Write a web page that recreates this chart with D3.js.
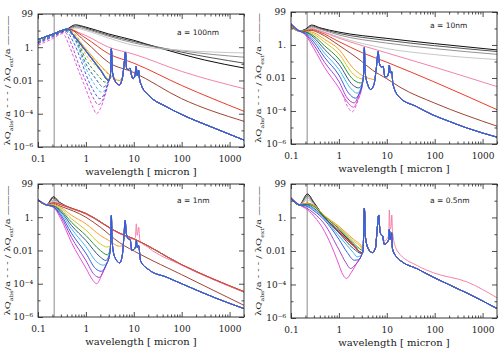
<!DOCTYPE html>
<html>
<head>
<meta charset="utf-8">
<script src="https://cdn.jsdelivr.net/npm/d3@7"></script>
<style>
  body { margin: 0; background: #fff; }
</style>
</head>
<body>
<svg id="chart" width="500" height="348"></svg>
<script>
(function(){
    'use strict';

    // tick labels
    const xTicks = [0.1, 1, 10, 100, 1000];
    const xTickLabels = ["0.1", "1", "10", "100", "1000"];
    const yTicks = [99, 1, 0.01, 1e-4, 1e-6];
    const yTickLabels = ["99", "1.", "0.01", "10⁻⁴", "10⁻⁶"];
    const yMinor = [10, 0.1, 1e-3, 1e-5];
    const sizeLabels = ["a = 100nm", "a = 10nm", "a = 1nm", "a = 0.5nm"];
    const bumpWave = 0.2175;

    // colour order: black, greys, pink, red, brown, orange, yellow, green, teal, light blue, blue, purple, magenta
    const colors = ["#000000", "#4a4a4a", "#8c8c8c", "#c4c4c4", "#f27ca2", "#e8321e", "#9c3a28",
                    "#f59a1a", "#d2c21e", "#1e8c28", "#2a4a8c", "#38b4e6", "#2e50dc", "#9a3cc8", "#e646d2"];

    // ---- a = 100nm ----
    const band1 = [[3.25,0.02],[3.4,0.8],[3.6,0.03],[4.2,0.008],[5.0,0.0055],[5.8,0.015],[6.3,0.1],[6.7,0.5],
        [7.1,0.05],[7.7,0.045],[8.3,0.055],[9.0,0.02],[9.7,0.013],[10.6,0.02],[11.2,0.07],[11.8,0.02],[12.6,0.04],
        [13.2,0.012],[14.5,0.005],[21,0.0012],[46,2.8e-4],[100,9e-5],[500,1.3e-5],[2000,2.6e-6]];
    const p1 = [
        [[0.1,2.9],[0.2,6],[0.4,12],[0.6,22],[1,16],[3,6.2],[10,2.6],[30,1.0],[100,0.38],[300,0.17],[2000,0.056]],
        [[0.1,2.9],[0.2,6],[0.4,12],[0.65,19],[1,14],[3,5.2],[10,2.2],[100,0.5],[2000,0.11]],
        [[0.1,2.9],[0.2,6],[0.4,12],[0.65,16],[1,12],[3,4.5],[10,1.8],[100,0.6],[2000,0.25]],
        [[0.1,2.9],[0.2,6],[0.4,12],[0.6,14],[1,10],[3,3.5],[10,1.3],[100,0.65],[2000,0.45]],
        [[0.1,2.9],[0.2,6],[0.43,12.5],[0.5,11],[1,5],[3,1.0],[10,0.38],[100,0.035],[2000,0.0032]],
        [[0.1,2.9],[0.2,6],[0.43,12.5],[1,3.5],[3,0.4],[10,0.11],[100,0.005],[2000,1.4e-4]],
        [[0.1,2.9],[0.2,6],[0.43,12.5],[1,2],[3,0.12],[10,0.03],[100,8e-4],[2000,3.5e-5]],
        [[0.1,2.9],[0.2,6],[0.43,12.5],[0.5,8],[1,0.8],[2,0.08],[3,0.025],[5,0.01],[5.8,0.016]],
        [[0.1,2.9],[0.2,6],[0.43,12.5],[0.5,7.6],[1,0.65],[2,0.05],[3,0.012]],
        [[0.1,2.9],[0.2,6],[0.43,12.5],[0.5,7.5],[1,0.62],[2,0.046],[3,0.011]],
        [[0.1,2.9],[0.2,6],[0.43,12.5],[0.5,7.5],[1,0.6],[2,0.045],[3,0.01]],
        [[0.1,2.9],[0.2,6],[0.43,12.5],[0.5,7.5],[1,0.6],[2,0.044],[3,0.01]],
        [[0.1,2.9],[0.2,6],[0.43,12.5],[0.5,7.4],[1,0.58],[2,0.043],[3,0.01]],
        [[0.1,2.9],[0.2,6],[0.43,12.5],[0.5,7.4],[1,0.58],[2,0.043],[3,0.01]],
        [[0.1,2.9],[0.2,6],[0.43,12.5],[0.5,7.3],[1,0.57],[2,0.042],[3,0.01]]
    ];
    const p1Join = [0,0,0,0,0,0,0,1,1,1,1,1,1,1,1];
    const p1Dash = [[],[],[],[],[],[],[],
        [[0.1,2.3],[0.2,5.7],[0.43,11],[0.6,6],[1,0.6],[2,0.08],[3,0.022],[5,0.01],[5.8,0.016]],
        [[0.1,2.2],[0.2,5.5],[0.42,11],[0.6,5],[1,0.35],[2,0.04],[3,0.012]],
        [[0.1,2.1],[0.2,5.2],[0.42,10.5],[0.6,4],[1,0.19],[1.8,0.02],[2.5,0.008],[3,0.011]],
        [[0.1,2],[0.2,5],[0.4,10],[0.6,3],[1,0.1],[1.6,0.013],[2.3,0.004],[3,0.01]],
        [[0.1,1.9],[0.2,4.8],[0.4,9.5],[0.6,2.5],[1,0.055],[1.5,0.006],[2.1,0.002],[2.6,0.003],[3,0.01]],
        [[0.1,1.8],[0.2,4.5],[0.38,9],[0.55,2],[0.8,0.15],[1,0.024],[1.5,0.002],[1.95,8e-4],[2.4,0.0015],[3,0.01]],
        [[0.1,1.6],[0.2,4],[0.36,8],[0.5,1.5],[0.7,0.1],[1,0.009],[1.5,7e-4],[1.8,3.5e-4],[2.2,6e-4],[2.7,0.003],[3,0.009]],
        [[0.1,1.3],[0.2,3.2],[0.33,6.5],[0.45,1.2],[0.7,0.04],[1,0.003],[1.4,2.5e-4],[1.66,1e-4],[2.0,2e-4],[2.5,0.0012],[3,0.008]]
    ];

    // ---- a = 10nm ----
    const band2 = [[3.25,0.012],[3.4,0.7],[3.55,0.02],[4.0,0.004],[4.6,0.002],[5.4,0.004],[6.1,0.05],[6.6,0.4],
        [7.0,0.08],[7.7,0.045],[8.4,0.05],[9.1,0.012],[10.2,0.012],[11.0,0.025],[11.3,0.06],[11.8,0.02],[12.6,0.025],
        [13.5,0.004],[18.6,6.5e-4],[41,1.9e-4],[89,6e-5],[205,2.3e-5],[457,9.6e-6],[2000,2.6e-6]];
    const p2 = [
        [[0.1,13],[0.15,7],[0.2,9],[0.27,16],[0.4,11],[1,6],[10,2.5],[100,1.2],[2000,0.5]],
        [[0.1,13],[0.15,7],[0.2,8.5],[0.27,14],[0.4,10],[1,5],[10,1.9],[100,0.9],[2000,0.4]],
        [[0.1,13],[0.15,7],[0.2,8],[0.27,12],[0.4,9],[1,4],[10,1.3],[100,0.6],[2000,0.27]],
        [[0.1,14],[0.15,7],[0.2,7.5],[0.27,10],[0.4,7.5],[1,3],[10,0.6],[100,0.26],[2000,0.13]],
        [[0.1,15],[0.15,7],[0.2,7.5],[0.27,9.5],[0.4,7],[1,2.6],[10,0.33],[100,0.045],[2000,0.003]],
        [[0.1,15],[0.15,7],[0.2,7.2],[0.27,8.5],[0.4,6],[1,1.6],[3,0.35],[10,0.09],[100,0.0056],[2000,1.2e-4]],
        [[0.1,16],[0.15,7],[0.2,7],[0.27,7.5],[0.4,5],[1,0.95],[3,0.1],[5,0.03],[10,0.009],[20,0.0025],[100,3e-4],[2000,1.2e-5]],
        [[0.1,16],[0.15,7],[0.2,6.8],[0.3,5.5],[0.5,2.2],[1,0.54],[2,0.038],[3,0.015],[4.5,0.009],[5.5,0.008]],
        [[0.1,17],[0.15,7],[0.2,6.5],[0.3,4.5],[0.5,1.5],[1,0.29],[2,0.017],[3,0.009]],
        [[0.1,17],[0.15,7],[0.2,6.2],[0.3,3.5],[0.5,0.9],[1,0.14],[2,0.008],[2.8,0.005],[3.1,0.006]],
        [[0.1,18],[0.15,7],[0.2,6],[0.3,2.8],[0.5,0.55],[1,0.068],[2,0.0035],[2.6,0.0025],[3.1,0.005]],
        [[0.1,18],[0.15,7],[0.2,5.5],[0.3,2.1],[0.5,0.32],[1,0.033],[1.8,0.0022],[2.4,0.0012],[3.1,0.005]],
        [[0.1,19],[0.15,7],[0.2,5],[0.3,1.5],[0.5,0.18],[1,0.015],[1.6,0.0012],[2.2,6e-4],[2.7,0.0012],[3.1,0.005]],
        [[0.1,19],[0.15,7],[0.2,4.5],[0.3,1.0],[0.5,0.09],[1,0.0062],[1.5,6e-4],[2.1,3.1e-4],[2.6,0.001],[3.1,0.005]],
        [[0.1,20],[0.15,7],[0.2,4],[0.3,0.6],[0.5,0.044],[1,0.0025],[1.5,3.5e-4],[2.0,1.7e-4],[2.5,5e-4],[3.1,0.004]]
    ];
    const p2Join = [0,0,0,0,0,0,0,1,1,1,1,1,1,1,1];
    const p2Dash = [[],[],[],[],[],[],[],[],[],[],[],[],[],[],
        [[1.2,0.001],[1.5,2e-4],[1.9,9e-5],[2.4,3e-4],[3.1,0.0035]]];

    // ---- a = 1nm ----
    const band3 = [[3.25,0.015],[3.4,1.26],[3.55,0.03],[4.0,0.004],[5.1,0.0018],[5.8,0.006],[6.2,0.06],[6.6,0.63],
        [7.0,0.1],[7.7,0.05],[8.4,0.045],[9.1,0.01],[10.2,0.012],[11.0,0.02],[11.3,0.04],[11.8,0.015],[12.6,0.02],
        [13.9,0.0023],[21,6.7e-4],[48,2.5e-4],[100,1e-4],[520,1.35e-5],[2000,3.2e-6]];
    const p3 = [
        [[0.1,11],[0.15,5.5],[0.21,17],[0.28,8],[0.4,4.5],[1,1.7],[5,0.11],[10,0.05],[100,0.0014],[2000,3.2e-5]],
        [[0.1,11],[0.15,5.5],[0.21,14],[0.28,7.5],[0.4,4.3],[1,1.65],[5,0.11],[10,0.05],[100,0.0014],[2000,3.3e-5]],
        [[0.1,11],[0.15,5.5],[0.21,11],[0.28,7],[0.4,4.2],[1,1.65],[5,0.11],[10,0.05],[100,0.0014],[2000,3.3e-5]],
        [[0.1,11],[0.15,5.5],[0.21,9],[0.28,6.5],[0.4,4.1],[1,1.6],[5,0.11],[10,0.05],[100,0.0014],[2000,3.3e-5]],
        [[0.1,11],[0.15,5.5],[0.21,8],[0.3,5.8],[1,1.6],[5,0.105],[10,0.048],[10.8,0.06],[11.3,0.4],[11.8,0.08],
         [12.7,0.25],[13.4,0.04],[20,0.015],[100,0.0013],[2000,3.1e-5]],
        [[0.1,11],[0.15,5.5],[0.21,7.5],[0.3,5.6],[1,1.6],[5,0.11],[10,0.05],[100,0.0014],[2000,3.4e-5]],
        [[0.1,11],[0.15,5.5],[0.21,6.5],[0.3,4.5],[1,1.0],[2,0.25],[5,0.03],[13,0.0063],[100,3.5e-4],[2000,5e-6]],
        [[0.1,11],[0.15,5.5],[0.21,5.5],[0.3,3.8],[0.5,1.3],[1,0.4],[2,0.08],[3,0.04],[5.0,0.018],[5.9,0.02]],
        [[0.1,11],[0.15,5.5],[0.21,5],[0.3,3.2],[0.5,0.8],[1,0.17],[2,0.025],[2.8,0.016],[3.1,0.018]],
        [[0.1,11],[0.15,5.5],[0.21,4.8],[0.3,2.6],[0.5,0.5],[1,0.08],[2,0.01],[2.8,0.0055],[3.1,0.008]],
        [[0.1,11],[0.15,5.5],[0.21,4.6],[0.3,2.2],[0.5,0.32],[1,0.04],[2,0.004],[2.6,0.0025],[3.1,0.006]],
        [[0.1,11],[0.15,5.5],[0.21,4.4],[0.3,1.8],[0.5,0.2],[1,0.017],[1.7,0.002],[2.3,0.0013],[2.8,0.002],[3.1,0.005]],
        [[0.1,11],[0.15,5.5],[0.21,4.2],[0.3,1.4],[0.5,0.11],[1,0.0068],[1.6,8e-4],[2.1,5.6e-4],[2.7,0.0015],[3.1,0.005]],
        [[0.1,11],[0.15,5.5],[0.21,4.1],[0.3,1.1],[0.5,0.06],[1,0.0025],[1.5,3.5e-4],[1.9,2.4e-4],[2.5,0.001],[3.1,0.005]],
        [[0.1,11],[0.15,5.5],[0.21,4],[0.3,0.8],[0.5,0.03],[1,8.7e-4],[1.4,1.6e-4],[1.67,1e-4],[2.2,4e-4],[2.8,0.002],[3.1,0.005]]
    ];
    const p3Join = [0,0,0,0,0,0,0,1,1,1,1,1,1,1,1];

    // ---- a = 0.5nm ----
    const band4 = [[3.2,0.01],[3.4,3.5],[3.6,0.06],[4.2,0.012],[5.0,0.008],[5.8,0.015],[6.3,0.2],[6.8,1.4],
        [7.2,0.15],[7.7,0.09],[8.2,0.08],[8.8,0.025],[10,0.03],[11.0,0.05],[11.3,0.19],[11.8,0.05],[12.6,0.12],
        [13.2,0.0125],[16.6,0.004],[19.5,0.0026],[44,8.4e-4],[94,2.7e-4],[480,3e-5],[2000,3.7e-6]];
    const p4 = [
        [[0.1,13],[0.15,5.6],[0.22,25],[0.3,8],[0.5,1.0],[1,0.17],[2,0.025],[3,0.008]],
        [[0.1,13],[0.15,5.6],[0.22,20],[0.3,7],[0.5,1.0],[1,0.16],[2,0.024],[3,0.008]],
        [[0.1,13],[0.15,5.6],[0.22,15],[0.3,6.5],[0.5,1.0],[1,0.15],[2,0.023],[3,0.008]],
        [[0.1,13],[0.15,5.6],[0.22,11],[0.3,6],[0.5,1.0],[1,0.15],[2,0.023],[3,0.008]],
        [[0.1,14],[0.15,5.6],[0.22,7],[0.3,5],[0.5,1.0],[1,0.15],[2,0.022],[3,0.008],[3.2,0.01],[3.4,3],[3.6,0.06],
         [4.2,0.012],[5,0.008],[5.8,0.015],[6.3,0.2],[6.8,1.2],[7.2,0.15],[7.7,0.09],[8.2,0.08],[8.8,0.04],[10,0.05],
         [11.0,0.1],[11.3,2.8],[11.8,0.2],[12.3,0.3],[12.7,1.4],[13.2,0.12],[16.6,0.01],[44,0.0013],[94,5e-4],
         [480,1.4e-4],[2000,1.6e-5]],
        [[0.1,14],[0.15,5.6],[0.22,7],[0.3,5],[0.5,1.0],[1,0.14],[2,0.022],[3,0.008]],
        [[0.1,14],[0.15,5.6],[0.22,7],[0.3,5],[0.5,0.95],[1,0.13],[2,0.02],[3,0.008]],
        [[0.1,14],[0.15,5.6],[0.22,7],[0.3,5],[0.5,1.3],[1,0.3],[2,0.05],[3,0.018]],
        [[0.1,14],[0.15,5.6],[0.22,6.5],[0.3,4.8],[0.5,1.2],[1,0.25],[2,0.04],[3,0.014]],
        [[0.1,14],[0.15,5.6],[0.22,6],[0.3,4.5],[0.5,1.1],[1,0.22],[2,0.03],[3,0.011]],
        [[0.1,14],[0.15,5.6],[0.22,5.5],[0.3,3.5],[0.5,0.95],[1,0.12],[2,0.014],[3,0.007]],
        [[0.1,14],[0.15,5.6],[0.22,5],[0.3,3],[0.5,0.85],[1,0.08],[2,0.008],[2.4,0.0045],[3,0.006]],
        [[0.1,15],[0.15,5.6],[0.22,4.5],[0.3,2.5],[0.5,0.7],[1,0.05],[1.5,0.008],[2.1,0.0028],[2.6,0.003],[3,0.006]],
        [[0.1,15],[0.15,5.6],[0.2,4],[0.3,1.8],[0.5,0.4],[1,0.012],[1.4,0.002],[1.75,9e-4],[2.2,0.0015],[3,0.006]],
        [[0.1,15],[0.15,5.6],[0.2,3.5],[0.3,1.2],[0.5,0.15],[0.8,0.008],[1,0.0015],[1.2,4e-4],[1.45,2.3e-4],[1.8,5e-4],[2.4,0.002],[3,0.006]]
    ];
    const p4Join = [1,1,1,1,0,1,1,1,1,1,1,1,1,1,1];

    const noDash = [[],[],[],[],[],[],[],[],[],[],[],[],[],[],[]];

    // layout of the four frames
    const W = 206;
    const panels = [
        {left: 38,  top: 14,  bottom: 147, curves: p1, join: p1Join, dash: p1Dash, band: band1, labY: 32,  ylabX: 7},
        {left: 291, top: 12,  bottom: 144, curves: p2, join: p2Join, dash: p2Dash, band: band2, labY: 25,  ylabX: 258},
        {left: 38,  top: 184, bottom: 317, curves: p3, join: p3Join, dash: noDash, band: band3, labY: 200, ylabX: 7},
        {left: 291, top: 184, bottom: 318, curves: p4, join: p4Join, dash: noDash, band: band4, labY: 200, ylabX: 258}
    ];
    const order = [0,1,2,3,4,5,6,7,8,9,10,14,13,11,12];

    const svg = d3.select("#chart");
    const serif = "DejaVu Serif";

    function withBand(own, band) {
        const last = own[own.length - 1][0];
        return own.concat(band.filter(b => b[0] > last));
    }

    panels.forEach((pn, i) => {
        const x = d3.scaleLog().domain([0.1, 2000]).range([pn.left, pn.left + W]);
        const y = d3.scaleLog().domain([1e-6, 99]).range([pn.bottom, pn.top]);
        const g = svg.append("g");

        svg.append("clipPath").attr("id", "clip" + i).append("rect")
            .attr("x", pn.left).attr("y", pn.top)
            .attr("width", W).attr("height", pn.bottom - pn.top);

        g.append("line")
            .attr("x1", x(bumpWave)).attr("x2", x(bumpWave))
            .attr("y1", pn.top).attr("y2", pn.bottom)
            .attr("stroke", "#8a8a8a").attr("stroke-width", 1);

        const line = d3.line()
            .x(d => x(d[0]))
            .y(d => y(d[1]))
            .curve(d3.curveMonotoneX);

        const plot = g.append("g").attr("clip-path", "url(#clip" + i + ")");

        // dashed ones under the solid ones
        order.forEach(k => {
            const d = pn.dash[k];
            if (!d.length) return;
            const pts = pn === panels[0] ? withBand(d, pn.band) : d;
            plot.append("path")
                .attr("d", line(pts))
                .attr("fill", "none")
                .attr("stroke", colors[k])
                .attr("stroke-width", 0.9)
                .attr("stroke-dasharray", "3,2");
        });

        order.forEach(k => {
            const own = pn.curves[k];
            const pts = pn.join[k] ? withBand(own, pn.band) : own;
            plot.append("path")
                .attr("d", line(pts))
                .attr("fill", "none")
                .attr("stroke", colors[k])
                .attr("stroke-width", 0.95);
        });

        // frame
        g.append("rect")
            .attr("x", pn.left).attr("y", pn.top)
            .attr("width", W).attr("height", pn.bottom - pn.top)
            .attr("fill", "none").attr("stroke", "#222").attr("stroke-width", 0.9);

        const xMinor = x.ticks().filter(t => xTicks.indexOf(t) < 0);

        g.append("g").attr("transform", `translate(0,${pn.bottom})`)
            .call(d3.axisBottom(x).tickValues(xTicks).tickSize(-5).tickPadding(9)
                .tickFormat((d, j) => xTickLabels[j]));
        g.append("g").attr("transform", `translate(0,${pn.bottom})`)
            .call(d3.axisBottom(x).tickValues(xMinor).tickSize(-2.5).tickFormat(""));
        g.append("g").attr("transform", `translate(0,${pn.top})`)
            .call(d3.axisTop(x).tickValues(xTicks).tickSize(-5).tickFormat(""));
        g.append("g").attr("transform", `translate(0,${pn.top})`)
            .call(d3.axisTop(x).tickValues(xMinor).tickSize(-2.5).tickFormat(""));

        g.append("g").attr("transform", `translate(${pn.left},0)`)
            .call(d3.axisLeft(y).tickValues(yTicks).tickSize(-5).tickPadding(5)
                .tickFormat((d, j) => yTickLabels[j]));
        g.append("g").attr("transform", `translate(${pn.left},0)`)
            .call(d3.axisLeft(y).tickValues(yMinor).tickSize(-2.5).tickFormat(""));
        g.append("g").attr("transform", `translate(${pn.left + W},0)`)
            .call(d3.axisRight(y).tickValues(yTicks).tickSize(-5).tickFormat(""));
        g.append("g").attr("transform", `translate(${pn.left + W},0)`)
            .call(d3.axisRight(y).tickValues(yMinor).tickSize(-2.5).tickFormat(""));

        g.selectAll(".domain").remove();
        g.selectAll(".tick line").attr("stroke", "#222").attr("stroke-width", 0.8);
        g.selectAll(".tick text")
            .style("font-family", serif).style("font-size", "9px").attr("fill", "#222");

        // axis title
        g.append("text")
            .attr("x", pn.left + W / 2).attr("y", pn.bottom + 28)
            .attr("text-anchor", "middle")
            .style("font-family", serif).style("font-size", "10px").attr("fill", "#222")
            .text("wavelength [ micron ]");

        const yl = g.append("text")
            .attr("transform", `translate(${pn.ylabX},${(pn.top + pn.bottom) / 2}) rotate(-90)`)
            .attr("text-anchor", "middle").attr("dy", "0.35em")
            .attr("textLength", 130).attr("lengthAdjust", "spacingAndGlyphs")
            .style("font-family", serif).style("font-size", "8px").attr("fill", "#222");
        yl.append("tspan").text("λQ");
        yl.append("tspan").attr("baseline-shift", "sub").style("font-size", "5px").text("abs");
        yl.append("tspan").text("/a - - - / λQ");
        yl.append("tspan").attr("baseline-shift", "sub").style("font-size", "5px").text("ext");
        yl.append("tspan").text("/a ———");

        g.append("text")
            .attr("x", pn.left + 139).attr("y", pn.labY).attr("dy", "0.35em")
            .style("font-family", "DejaVu Sans").style("font-size", "7.5px").attr("fill", "#222")
            .text(sizeLabels[i]);
    });
})();
</script>
</body>
</html>
